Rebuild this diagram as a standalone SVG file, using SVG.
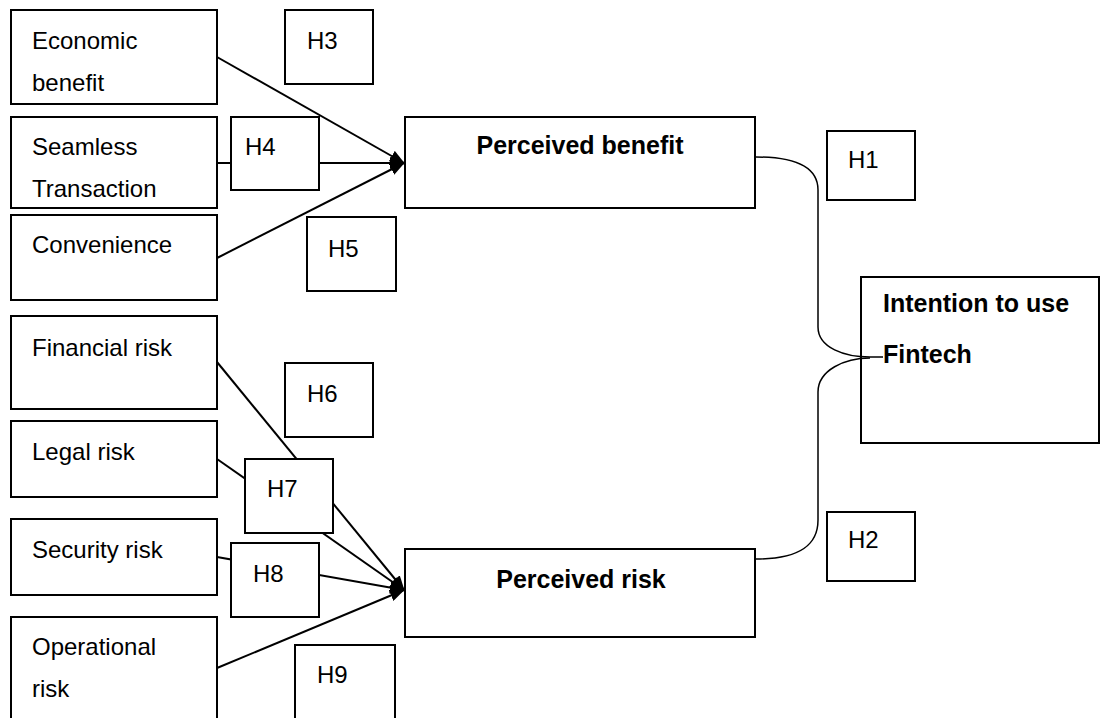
<svg xmlns="http://www.w3.org/2000/svg" width="1101" height="718" viewBox="0 0 1101 718">
<style>
.box{fill:#fff;stroke:#000;stroke-width:2}
.t{font-family:"Liberation Sans",Arial,sans-serif;font-size:24px;fill:#000}
.b{font-family:"Liberation Sans",Arial,sans-serif;font-size:25px;font-weight:bold;fill:#000}
.ln{fill:none;stroke:#000;stroke-width:2}
.cv{fill:none;stroke:#000;stroke-width:1.5}
</style>
<defs>
<marker id="ah" viewBox="0 0 15 12" refX="14" refY="6" markerWidth="15" markerHeight="12" markerUnits="userSpaceOnUse" orient="auto">
<path d="M0,0 L15,6 L0,12 Z" fill="#000"/>
</marker>
</defs>
<rect width="1101" height="718" fill="#fff"/>

<g id="n-economic"><rect class="box" x="11" y="10" width="206" height="94"/><text class="t" x="32" y="49">Economic</text><text class="t" x="32" y="91">benefit</text></g>
<g id="n-seamless"><rect class="box" x="11" y="117" width="206" height="91"/><text class="t" x="32" y="155">Seamless</text><text class="t" x="32" y="197">Transaction</text></g>
<g id="n-convenience"><rect class="box" x="11" y="215" width="206" height="85"/><text class="t" x="32" y="253">Convenience</text></g>
<g id="n-financial"><rect class="box" x="11" y="316" width="206" height="93"/><text class="t" x="32" y="356">Financial risk</text></g>
<g id="n-legal"><rect class="box" x="11" y="421" width="206" height="76"/><text class="t" x="32" y="460">Legal risk</text></g>
<g id="n-security"><rect class="box" x="11" y="519" width="206" height="76"/><text class="t" x="32" y="558">Security risk</text></g>
<g id="n-operational"><rect class="box" x="11" y="617" width="206" height="115"/><text class="t" x="32" y="655">Operational</text><text class="t" x="32" y="697">risk</text></g>

<g id="n-benefit"><rect class="box" x="405" y="117" width="350" height="91"/><text class="b" x="580" y="154" text-anchor="middle">Perceived benefit</text></g>
<g id="n-risk"><rect class="box" x="405" y="549" width="350" height="88"/><text class="b" x="581" y="588" text-anchor="middle">Perceived risk</text></g>
<g id="n-intention"><rect class="box" x="861" y="277" width="238" height="166"/><text class="b" x="883" y="312">Intention to use</text><text class="b" x="883" y="363">Fintech</text></g>

<g id="connectors">
<line class="ln" x1="217" y1="57" x2="404" y2="163" marker-end="url(#ah)"/>
<line class="ln" x1="217" y1="163" x2="404" y2="163" marker-end="url(#ah)"/>
<line class="ln" x1="217" y1="258" x2="404" y2="163" marker-end="url(#ah)"/>
<line class="ln" x1="217" y1="362" x2="404" y2="590" marker-end="url(#ah)"/>
<line class="ln" x1="217" y1="459" x2="404" y2="590" marker-end="url(#ah)"/>
<line class="ln" x1="217" y1="557" x2="404" y2="590" marker-end="url(#ah)"/>
<line class="ln" x1="217" y1="668" x2="404" y2="590" marker-end="url(#ah)"/>
<path class="cv" d="M756,157 C800,157 818,170 818,190 L818,327 C818,348 845,357 870,357 L883,357"/>
<path class="cv" d="M756,559 C800,559 818,545 818,520 L818,392 C818,370 845,358 870,358"/>
</g>

<g id="h1"><rect class="box" x="827" y="131" width="88" height="69"/><text class="t" x="848" y="168">H1</text></g>
<g id="h2"><rect class="box" x="827" y="512" width="88" height="69"/><text class="t" x="848" y="548">H2</text></g>
<g id="h3"><rect class="box" x="285" y="10" width="88" height="74"/><text class="t" x="307" y="49">H3</text></g>
<g id="h4"><rect class="box" x="231" y="117" width="88" height="73"/><text class="t" x="245" y="155">H4</text></g>
<g id="h5"><rect class="box" x="307" y="217" width="89" height="74"/><text class="t" x="328" y="257">H5</text></g>
<g id="h6"><rect class="box" x="285" y="363" width="88" height="74"/><text class="t" x="307" y="402">H6</text></g>
<g id="h7"><rect class="box" x="245" y="459" width="88" height="74"/><text class="t" x="267" y="497">H7</text></g>
<g id="h8"><rect class="box" x="231" y="543" width="88" height="74"/><text class="t" x="253" y="582">H8</text></g>
<g id="h9"><rect class="box" x="295" y="645" width="100" height="90"/><text class="t" x="317" y="683">H9</text></g>
</svg>
